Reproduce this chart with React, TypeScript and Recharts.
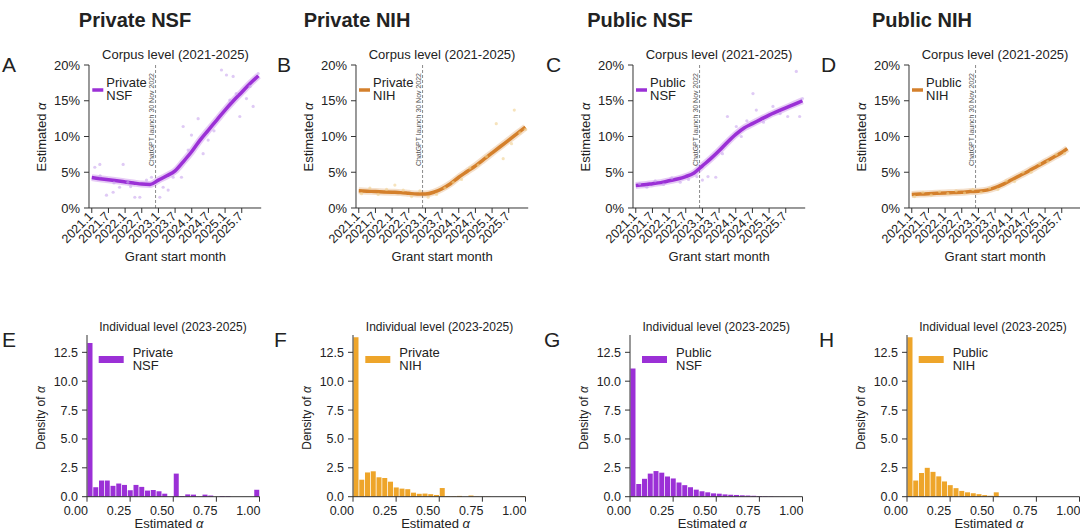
import React from "react";
import { ComposedChart, Line, Scatter, XAxis, YAxis, ReferenceLine, BarChart, Bar } from "recharts";

// ---- data ----
const GROUPS = ["Private NSF", "Private NIH", "Public NSF", "Public NIH"];
const LEGEND_LINES = [["Private", "NSF"], ["Private", "NIH"], ["Public", "NSF"], ["Public", "NIH"]];

// months since 2021.1
const MONTH_TICKS = [0, 6, 12, 18, 24, 30, 36, 42, 48, 54];
const MONTH_LABELS = ["2021.1", "2021.7", "2022.1", "2022.7", "2023.1", "2023.7", "2024.1", "2024.7", "2025.1", "2025.7"];
const PCT_TICKS = [0, 5, 10, 15, 20];
const LAUNCH_MONTH = 22.97; // 30 Nov 2022

const LINE_MONTHS = [0, 3, 6, 9, 12, 15, 18, 21, 24, 27, 30, 33, 36, 39, 42, 45, 48, 51, 54, 57, 60];
const LINE_MONTHS_PUBLIC_NIH = [0, 3, 6, 9, 12, 15, 18, 21, 24, 27, 30, 33, 36, 39, 42, 45, 48, 51, 54, 56];

const privateNsfLine = [4.25, 4.1, 3.95, 3.8, 3.65, 3.5, 3.35, 3.3, 3.9, 4.5, 5.2, 6.5, 7.9, 9.5, 10.9, 12.3, 13.7, 15.0, 16.2, 17.4, 18.5];
const privateNihLine = [2.4, 2.35, 2.3, 2.25, 2.2, 2.15, 2.05, 1.95, 1.95, 2.2, 2.7, 3.4, 4.3, 5.1, 5.9, 6.8, 7.7, 8.6, 9.5, 10.4, 11.3];
const publicNsfLine = [3.15, 3.25, 3.4, 3.55, 3.8, 4.05, 4.4, 4.9, 5.9, 6.9, 8.0, 9.2, 10.3, 11.2, 11.8, 12.4, 13.0, 13.5, 14.0, 14.5, 15.0];
const publicNihLine = [1.9, 1.95, 2.0, 2.05, 2.1, 2.15, 2.2, 2.3, 2.35, 2.5, 2.85, 3.35, 3.95, 4.55, 5.15, 5.8, 6.45, 7.1, 7.75, 8.3];

// monthly estimates (faint points): [month, value %]
const privateNsfMonthly = [
  [1.1, 5.7], [2.9, 6.1], [3, 4.5], [5.3, 1.8], [7.7, 2.2], [8, 3.5], [10, 2.9], [11.3, 6.1], [13, 3.6], [14, 3.0],
  [15.5, 1.5], [17.3, 1.5], [19.7, 3.9], [21.5, 4.3], [24.5, 1.5], [25.7, 2.9], [27.5, 2.5], [29.3, 4.3], [32.3, 4.3],
  [32.9, 11.4], [34.7, 8.1], [35.9, 10.2], [38.3, 12.5], [40.1, 7.6], [41.9, 9.5], [44, 10.8], [46.7, 19.3], [48.5, 18.6],
  [49.7, 15.1], [50.9, 18.4], [52, 16.0], [53.3, 12.8], [55.7, 15.3], [57, 17.0], [58.1, 14.2], [59.9, 18.8],
];
const privateNihMonthly = [
  [1, 2.0], [4, 2.8], [7, 1.9], [10, 2.6], [13, 3.2], [16, 2.5], [19, 1.6], [22, 2.4], [25, 1.5], [28, 1.9], [31, 2.8],
  [34, 3.6], [37, 4.0], [40, 5.6], [43, 6.0], [46, 7.2], [49.5, 11.8], [52, 6.9], [55, 9.0], [56, 13.7], [58, 10.5], [60, 11.0],
];
const publicNsfMonthly = [
  [1.4, 3.4], [4, 2.9], [7, 3.8], [10, 3.3], [13, 4.2], [16, 3.6], [19, 4.0], [22, 4.4], [24, 3.9], [26, 4.4], [28.8, 4.3],
  [31.2, 7.6], [33, 12.8], [36.2, 11.4], [38, 10.0], [40, 12.2], [42.2, 16], [43.4, 13.7], [46, 12.0], [49.4, 14.2],
  [52, 13.2], [54.7, 12.8], [57.8, 19.1], [59, 12.8], [60, 15.3],
];
const publicNihMonthly = [
  [1, 1.6], [4, 2.2], [7, 1.8], [10, 2.3], [13, 2.0], [16, 2.4], [19, 2.1], [22, 2.6], [25, 2.2], [28, 2.8], [31, 2.6],
  [34, 3.8], [37, 3.7], [40, 5.0], [43, 5.0], [46, 6.2], [49, 6.5], [52, 7.5], [55, 7.6],
];

// histograms: 30 bins on [0, 1]
const BIN_WIDTH = 1 / 30;
const ALPHA_TICKS = [0, 0.25, 0.5, 0.75, 1];
const DENSITY_TICKS = [0, 2.5, 5, 7.5, 10, 12.5];

const privateNsfHist = [13.3, 0.82, 1.4, 1.4, 0.94, 1.14, 1.02, 0.56, 1.02, 0.85, 0.53, 0.58, 0.47, 0.26, 0, 2.0, 0.06, 0.2, 0.18, 0, 0.18, 0.1, 0, 0.06, 0.05, 0, 0, 0, 0, 0.6];
const privateNihHist = [13.8, 1.47, 2.1, 2.2, 1.68, 1.62, 1.3, 0.8, 0.7, 0.65, 0.35, 0.25, 0.27, 0.22, 0.15, 0.75, 0.05, 0.04, 0.07, 0, 0.1, 0.02, 0.02, 0.02, 0, 0, 0, 0, 0, 0.05];
const publicNsfHist = [11.1, 1.1, 1.55, 2.0, 2.22, 2.08, 1.75, 1.58, 1.23, 1.0, 0.82, 0.61, 0.47, 0.38, 0.29, 0.26, 0.2, 0.17, 0.15, 0.12, 0.1, 0.08, 0.06, 0.04, 0.03, 0.01, 0.01, 0, 0, 0];
const publicNihHist = [13.8, 1.4, 2.05, 2.5, 2.15, 1.76, 1.32, 1.0, 0.74, 0.5, 0.38, 0.3, 0.22, 0.14, 0.08, 0.38, 0, 0, 0, 0, 0, 0, 0, 0, 0, 0, 0, 0, 0, 0];

// ---- styling ----
const FONT = '"Liberation Sans", Arial, Helvetica, sans-serif';
const INK = "#222";
const AXIS = "#333";
const PURPLE = "#9b30d6";
const ORANGE_LINE = "#d4802c";
const ORANGE_BAR = "#eea52a";
const PURPLE_DOT = "#c9a6ee";
const ORANGE_DOT = "#f0d18f";

const Y_W = 60;
const TOP_PLOT_W = 172.2;
const BOT_PLOT_W = 172.5;

const TOP_AXIS_X = [89.3, 356, 633, 909];
const BOT_AXIS_X = [86.7, 353.3, 630, 906.7];
const TITLE_X = [135, 357, 640, 922];
const TOP_LETTER_X = [2, 277, 546, 821];
const BOT_LETTER_X = [2, 274, 544, 819];

const toLine = (months, vals) => months.map((m, i) => ({ m, v: vals[i] }));
const toDots = (pts) => pts.map(([m, v]) => ({ m, v }));
const toBins = (vals) => vals.map((d, i) => ({ x: (i + 0.5) * BIN_WIDTH, d }));

const TREND = [
  { color: PURPLE, dot: PURPLE_DOT, line: toLine(LINE_MONTHS, privateNsfLine), dots: toDots(privateNsfMonthly) },
  { color: ORANGE_LINE, dot: ORANGE_DOT, line: toLine(LINE_MONTHS, privateNihLine), dots: toDots(privateNihMonthly) },
  { color: PURPLE, dot: PURPLE_DOT, line: toLine(LINE_MONTHS, publicNsfLine), dots: toDots(publicNsfMonthly) },
  { color: ORANGE_LINE, dot: ORANGE_DOT, line: toLine(LINE_MONTHS_PUBLIC_NIH, publicNihLine), dots: toDots(publicNihMonthly) },
];

const HIST = [
  { color: PURPLE, bins: toBins(privateNsfHist) },
  { color: ORANGE_BAR, bins: toBins(privateNihHist) },
  { color: PURPLE, bins: toBins(publicNsfHist) },
  { color: ORANGE_BAR, bins: toBins(publicNihHist) },
];

function MonthTick(props) {
  const { x, y, payload } = props;
  const label = MONTH_LABELS[MONTH_TICKS.indexOf(payload.value)];
  const ax = x + 2;
  const ay = y + 4;
  return (
    <text x={ax} y={ay} transform={`rotate(-45 ${ax} ${ay})`} textAnchor="end" fontSize={12.5} fill={INK}>
      {label}
    </text>
  );
}

function AlphaTick(props) {
  const { x, y, payload } = props;
  return (
    <text x={x + 1} y={y + 13} textAnchor="end" fontSize={12.5} fill={INK}>
      {payload.value.toFixed(2)}
    </text>
  );
}

function LaunchLabel(props) {
  const vb = props.viewBox;
  if (!vb) return null;
  const x = vb.x - 1.5;
  const y = vb.y + 8;
  return (
    <text x={x} y={y} transform={`rotate(-90 ${x} ${y})`} textAnchor="end" fontSize={7} fill="#555">
      ChatGPT launch 30 Nov 2022
    </text>
  );
}

function TrendPanel({ axisX, cfg }) {
  return (
    <div style={{ position: "absolute", left: axisX - Y_W, top: 0 }}>
      <ComposedChart width={Y_W + TOP_PLOT_W + 8} height={275} margin={{ top: 65, right: 8, bottom: 0, left: 0 }}>
        <XAxis
          type="number"
          dataKey="m"
          domain={[-1, 61]}
          ticks={MONTH_TICKS}
          interval={0}
          tick={<MonthTick />}
          tickSize={5}
          tickMargin={0}
          height={67}
          stroke={AXIS}
        />
        <YAxis
          type="number"
          domain={[0, 20]}
          ticks={PCT_TICKS}
          interval={0}
          tickFormatter={(v) => `${v}%`}
          width={Y_W}
          tickSize={5}
          tickMargin={4}
          tick={{ fontSize: 13, fill: INK }}
          stroke={AXIS}
        />
        <ReferenceLine x={LAUNCH_MONTH} stroke="#8a8a8a" strokeDasharray="3 2" label={LaunchLabel} />
        <Scatter
          data={cfg.dots}
          dataKey="v"
          isAnimationActive={false}
          shape={(p) => <circle cx={p.cx} cy={p.cy} r={1.6} fill={cfg.dot} fillOpacity={0.6} />}
        />
        <Line data={cfg.line} dataKey="v" type="monotone" stroke={cfg.color} strokeOpacity={0.25} strokeWidth={7} dot={false} isAnimationActive={false} />
        <Line data={cfg.line} dataKey="v" type="monotone" stroke={cfg.color} strokeWidth={3.5} dot={false} isAnimationActive={false} />
      </ComposedChart>
    </div>
  );
}

function HistPanel({ axisX, cfg }) {
  return (
    <div style={{ position: "absolute", left: axisX - Y_W, top: 290 }}>
      <BarChart
        width={Y_W + BOT_PLOT_W + 8}
        height={242}
        data={cfg.bins}
        margin={{ top: 45, right: 8, bottom: 0, left: 0 }}
        barCategoryGap={0.5}
      >
        <XAxis
          type="number"
          dataKey="x"
          domain={[0, 1]}
          ticks={ALPHA_TICKS}
          interval={0}
          tick={<AlphaTick />}
          tickSize={5}
          tickMargin={0}
          height={35.3}
          stroke={AXIS}
        />
        <YAxis
          type="number"
          domain={[0, 14]}
          ticks={DENSITY_TICKS}
          interval={0}
          tickFormatter={(v) => v.toFixed(1)}
          width={Y_W}
          tickSize={5}
          tickMargin={4}
          tick={{ fontSize: 12.5, fill: INK }}
          stroke={AXIS}
        />
        <Bar dataKey="d" fill={cfg.color} isAnimationActive={false} />
      </BarChart>
    </div>
  );
}

function Overlay() {
  return (
    <svg width={1080} height={532} style={{ position: "absolute", left: 0, top: 0, pointerEvents: "none" }}>
      {GROUPS.map((g, i) => {
        const tx = TOP_AXIS_X[i];
        const bx = BOT_AXIS_X[i];
        const tc = tx + TOP_PLOT_W / 2;
        const bc = bx + BOT_PLOT_W / 2;
        const top = TREND[i];
        const bot = HIST[i];
        const [l1, l2] = LEGEND_LINES[i];
        return (
          <g key={g} fill={INK}>
            <text x={TITLE_X[i]} y={27} textAnchor="middle" fontSize={20} fontWeight="bold">{g}</text>
            <text x={TOP_LETTER_X[i]} y={72} fontSize={21}>{"ABCD"[i]}</text>
            <text x={BOT_LETTER_X[i]} y={347} fontSize={21}>{"EFGH"[i]}</text>

            <text x={tc} y={59} textAnchor="middle" fontSize={13}>Corpus level (2021-2025)</text>
            <text x={tc} y={261} textAnchor="middle" fontSize={13}>Grant start month</text>
            <text x={tx - 43} y={137} transform={`rotate(-90 ${tx - 43} 137)`} textAnchor="middle" fontSize={13}>
              Estimated <tspan fontStyle="italic">α</tspan>
            </text>
            <line x1={tx + 3} x2={tx + 14} y1={90} y2={90} stroke={top.color} strokeWidth={3.5} />
            <text x={tx + 17} y={87} fontSize={13}>{l1}</text>
            <text x={tx + 17} y={100} fontSize={13}>{l2}</text>

            <text x={bc} y={331} textAnchor="middle" fontSize={12}>Individual level (2023-2025)</text>
            <text x={bc - 4} y={528} textAnchor="middle" fontSize={13}>
              Estimated <tspan fontStyle="italic">α</tspan>
            </text>
            <text x={bx - 42} y={418} transform={`rotate(-90 ${bx - 42} 418)`} textAnchor="middle" fontSize={12}>
              Density of <tspan fontStyle="italic">α</tspan>
            </text>
            <rect x={bx + 12} y={356} width={25} height={7} fill={bot.color} />
            <text x={bx + 46} y={357} fontSize={13}>{l1}</text>
            <text x={bx + 46} y={370} fontSize={13}>{l2}</text>
          </g>
        );
      })}
    </svg>
  );
}

export default function App() {
  return (
    <div
      style={{
        position: "absolute",
        left: 0,
        top: 0,
        width: 1080,
        height: 532,
        overflow: "hidden",
        background: "#fff",
        fontFamily: FONT,
      }}
    >
      {TREND.map((cfg, i) => (
        <TrendPanel key={`t${i}`} axisX={TOP_AXIS_X[i]} cfg={cfg} />
      ))}
      {HIST.map((cfg, i) => (
        <HistPanel key={`h${i}`} axisX={BOT_AXIS_X[i]} cfg={cfg} />
      ))}
      <Overlay />
    </div>
  );
}
